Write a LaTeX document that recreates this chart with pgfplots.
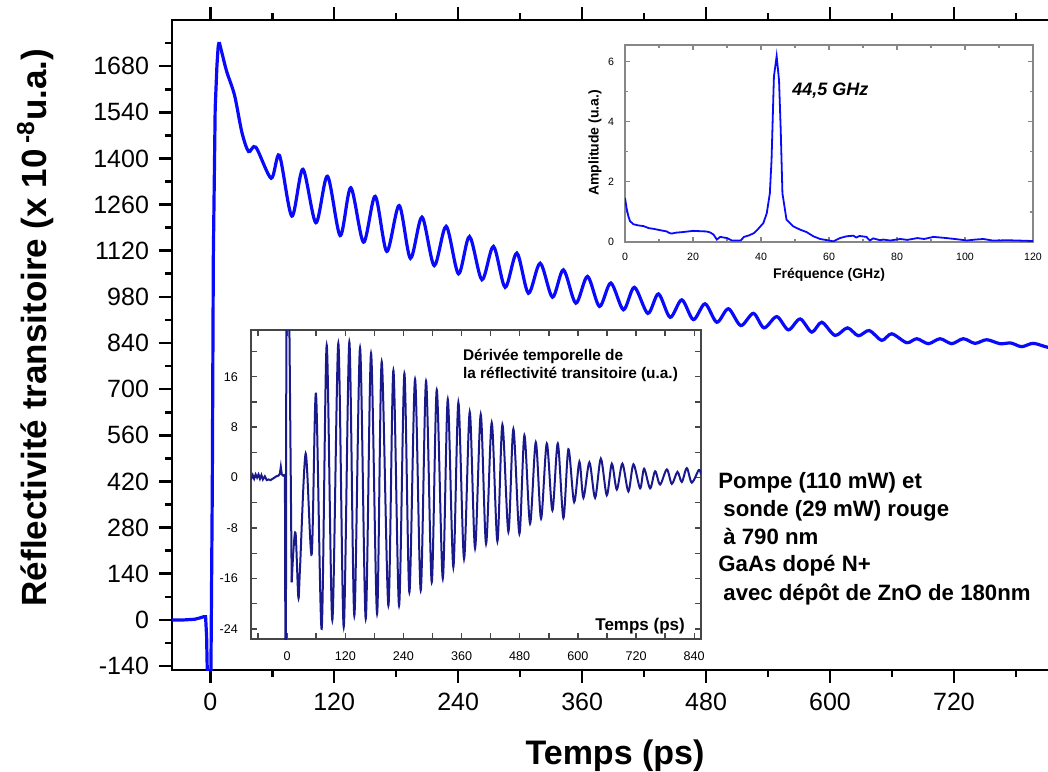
\documentclass[border=0pt]{standalone}
\usepackage{fontspec}
\setmainfont{Liberation Sans}
\usepackage{pgfplots}
\pgfplotsset{compat=1.18}
\definecolor{mainblue}{RGB}{10,10,250}
\definecolor{navy}{RGB}{25,25,140}
\definecolor{framegray}{RGB}{135,135,135}
\definecolor{framedark}{RGB}{70,70,70}

\begin{document}
\begin{tikzpicture}
% ---------------- main axis ----------------
\begin{axis}[
  at={(86pt,50.5pt)}, anchor=south west,
  scale only axis, width=442.65pt, height=325pt,
  xmin=-37, xmax=820, ymin=-152, ymax=1820,
  axis line style={line width=1.3pt},
  every tick/.style={line width=1.3pt, black},
  major tick length=6.5pt, minor tick length=3.5pt,
  tick align=outside,
  xtick={0,120,...,720}, minor xtick={60,180,...,780},
  ytick={-140,0,...,1680}, minor ytick={-70,70,...,1750},
  ytick pos=left, xtick pos=both, xticklabel pos=lower,
  ticklabel style={font=\fontsize{12.5}{13}\selectfont},
  /pgf/number format/assume math mode=true,
  /pgf/number format/1000 sep={},
  x tick label style={yshift=-1.5pt},
  y tick label style={xshift=-1.5pt},
]
\addplot[mainblue, line width=1.6pt] coordinates {
(-37,0) (-25,0) (-15,2) (-10,6) (-6,10) (-4.5,10) (-3.5,-50) (-2,-300) (0,-300)
(0.7,-150) (2,400) (3,1100) (4.8,1552) (6.5,1682) (7.7,1740) (8.7,1753)
};
\addplot[mainblue, line width=1.6pt, smooth] coordinates {
(8.7,1753) (12,1712) (16.1,1662) (23.6,1591) (30.6,1480) (37.1,1421) (44.2,1434)
(59,1340) (67,1409) (79,1225) (89.7,1367) (102.3,1205) (113.5,1346) (125.8,1166)
(136.1,1311) (148.4,1146) (159.7,1285) (170.9,1118) (182.9,1257) (193.8,1097)
(205,1222) (216.8,1075) (228.4,1194) (240.3,1050) (251,1163) (263,1032)
(274.2,1133) (285.5,1009) (296.8,1113) (308,991) (319.4,1082) (331.3,979)
(341.9,1062) (353.9,961) (365.2,1042) (376.8,951) (387.8,1022) (400,941)
(410.6,1009) (423.6,930) (433.9,989) (445.2,918) (456.5,971) (467.7,911)
(479,959) (490.4,903) (501.6,944) (513.6,893) (525.8,930) (536.1,886)
(548.4,920) (559.7,880) (571,913) (582.3,873) (592,903) (604.8,863)
(616.8,886) (627.4,862) (638,878) (650,848) (659.7,868) (674.2,841)
(684,853) (695.2,838) (706.5,853) (717.8,838) (729,853) (740.3,839)
(751.6,850) (764.5,838) (775,840) (785.5,829) (796.8,839) (811,827) (820,830)
};
\end{axis}

% ---------------- FFT inset ----------------
\begin{axis}[
  at={(312.5pt,264.5pt)}, anchor=south west,
  scale only axis, width=204pt, height=98.5pt,
  xmin=0, xmax=120, ymin=0, ymax=6.55,
  axis background/.style={fill=white},
  axis line style={framegray, line width=0.6pt},
  every tick/.style={framegray, line width=0.6pt},
  major tick length=2.5pt, minor tick length=1.5pt,
  tick align=inside,
  xtick={0,20,...,120}, minor xtick={10,30,...,110},
  ytick={0,2,4,6}, minor ytick={1,3,5},
  xtick pos=both, ytick pos=both, xticklabel pos=lower, yticklabel pos=left,
  ticklabel style={font=\fontsize{5.3}{6}\selectfont},
  /pgf/number format/assume math mode=true,
  x tick label style={yshift=-2pt},
  y tick label style={xshift=-2pt},
]
\addplot[mainblue, line width=0.9pt] coordinates {
(0,1.46) (0.5,1.1) (1,0.85) (1.5,0.69) (2.5,0.59) (4,0.55) (5.4,0.53) (7,0.46)
(8.3,0.44) (10,0.4) (12.3,0.35) (13,0.3) (13.7,0.28) (15,0.31) (17,0.33)
(18.5,0.35) (20,0.37) (22,0.36) (24,0.35) (25,0.32) (26,0.25) (27,0.08)
(28,0.17) (30,0.13) (31.4,0.05) (33,0.05) (34,0.05) (35,0.17) (36.5,0.22)
(38,0.3) (39.2,0.44) (40.7,0.63) (41.7,0.96) (42.6,1.62) (43.1,2.73) (43.8,5.5)
(44.6,6.18) (45.3,5.38) (45.8,3.72) (46.3,1.62) (47.5,0.74) (49.5,0.52)
(51.5,0.41) (53.4,0.33) (55.4,0.19) (57.4,0.1) (60,0.05) (61.3,0.02) (63.2,0.13)
(65.2,0.19) (67.2,0.21) (68,0.15) (69,0.2) (71,0.17) (72,0.05) (73,0.12)
(75,0.06) (76,0.08) (78,0.05) (81,0.1) (83,0.07) (86,0.13) (88,0.1) (90.7,0.17)
(94.6,0.13) (98.5,0.08) (100.5,0.05) (103,0.08) (105.4,0.1) (108,0.05)
(110,0.05) (112,0.06) (115,0.05) (118,0.04) (120,0.03)
};
\end{axis}

% ---------------- derivative inset ----------------
\begin{axis}[
  at={(125.5pt,66pt)}, anchor=south west,
  scale only axis, width=225pt, height=154.5pt,
  xmin=-74.5, xmax=854, ymin=-25.6, ymax=23.4,
  axis background/.style={fill=white},
  axis line style={framedark, line width=0.8pt},
  every tick/.style={framedark, line width=0.7pt},
  major tick length=2.8pt, minor tick length=2.8pt,
  tick align=inside,
  xtick={0,120,...,840}, minor xtick={-60,60,...,780},
  ytick={-24,-16,...,16}, minor ytick={-20,-12,...,20},
  xtick pos=both, ytick pos=both, xticklabel pos=lower, yticklabel pos=left,
  ticklabel style={font=\fontsize{6.3}{7}\selectfont},
  /pgf/number format/assume math mode=true,
  x tick label style={yshift=-3pt},
  y tick label style={xshift=-3pt},
]
\addplot[navy, line width=1pt] coordinates {
(-74.5,-0.3) (-71,0.4) (-68,-0.2) (-65,0.5) (-62,0) (-59,0.5) (-56,-0.2) (-53,0.4)
(-50,-0.3) (-46,0.2) (-42,-0.4) (-38,-0.3) (-34,-0.4) (-30,-0.2) (-26,0) (-22,0.2)
(-18,0.3) (-15,0.6) (-13,1.7) (-11,0.5) (-8,0.3) (-6,0.4) (-4.5,0.3)
(-3.5,-30) (-2.5,-30) (-1.5,30) (4,30) (9.5,-16.6)
};
\addplot[navy, line width=1pt, smooth] coordinates {
(9.5,-16.6) (13.5,-11) (17.7,-9) (23.2,-19) (26.6,-14.4) (38.3,3.8) (50.7,-12.2)
(59.6,13.3) (71.3,-24) (81.7,21) (93.3,-22.6) (105.7,21.3) (116.8,-23.7)
(128.4,21.5) (138.7,-21.9) (150.5,20.6) (162.2,-22.4) (173.2,19.7) (185.6,-21.6)
(195.2,18.4) (209,-20.3) (219.3,17) (231,-20.3) (242,16.5) (252.3,-18.2)
(264,15.6) (275.7,-17.9) (286.7,15.3) (298.4,-16.6) (308.8,13.9) (321.2,-16)
(331.5,12.4) (343,-14.2) (353.4,11.9) (365.1,-12.9) (376.8,10.4) (387.8,-11.2)
(399.5,10) (410.5,-10.5) (422.2,8.7) (433.9,-10.1) (444.2,8.4) (456.6,-8.6)
(466.9,7.7) (479.3,-8.9) (489.6,6.7) (501.3,-7.3) (513.1,5.6) (524,-6.5)
(535.8,5.4) (547.4,-5.2) (558.5,5.4) (570.1,-6.4) (580.4,4.5) (592.2,-3.9)
(603.1,2.5) (611.4,-3.2) (623.7,2.4) (635.5,-3.2) (647.3,3.0) (659.6,-2.8)
(670,2.2) (680.3,-1.9) (691.8,2.2) (704.2,-2.2) (714.6,2.1) (728.4,-1.7)
(736.6,1.4) (749,-1.7) (759.3,1.0) (769.6,-1.1) (783.5,1.3) (793.8,-1.0)
(805.4,0.9) (814.4,-0.7) (824.7,1.5) (835,-0.8) (849.4,1.2) (854,0.5)
};
\end{axis}

% ---------------- texts ----------------
\node[rotate=90, anchor=base, inner sep=0, font=\bfseries\fontsize{17.5}{20}\selectfont]
  at (23.35pt,221.75pt) {Réflectivité transitoire (x 10\,\textsuperscript{-8}u.a.)};
\node[anchor=base, inner sep=0, font=\bfseries\fontsize{17}{20}\selectfont]
  at (307.5pt,3.5pt) {Temps (ps)};

\begin{scope}[every node/.style={anchor=base west, inner sep=0, font=\bfseries\fontsize{11.1}{13}\selectfont}]
\node at (359pt,141.35pt) {Pompe (110 mW) et};
\node at (361.5pt,127.5pt) {sonde (29 mW) rouge};
\node at (361.5pt,113.35pt) {à 790 nm};
\node at (359pt,99.65pt) {GaAs dopé N+};
\node at (361.5pt,85.5pt) {avec dépôt de ZnO de 180nm};
\end{scope}

\node[anchor=base west, inner sep=0, font=\bfseries\itshape\fontsize{9}{10}\selectfont]
  at (396pt,337.5pt) {44,5 GHz};
\node[anchor=base, inner sep=0, font=\bfseries\fontsize{7}{8}\selectfont]
  at (414.5pt,246.35pt) {Fréquence (GHz)};
\node[rotate=90, anchor=center, inner sep=0, font=\bfseries\fontsize{7}{8}\selectfont]
  at (297.5pt,314pt) {Amplitude (u.a.)};

\node[anchor=base west, inner sep=0, font=\bfseries\fontsize{7.7}{9}\selectfont]
  at (231.35pt,205.15pt) {Dérivée temporelle de};
\node[anchor=base west, inner sep=0, font=\bfseries\fontsize{7.7}{9}\selectfont]
  at (231.35pt,196.35pt) {la réflectivité transitoire (u.a.)};
\node[anchor=base west, inner sep=0, font=\bfseries\fontsize{8.5}{10}\selectfont]
  at (297.5pt,70.15pt) {Temps (ps)};

\pgfresetboundingbox
\path[use as bounding box] (0,0) rectangle (524pt,385.5pt);
\end{tikzpicture}
\end{document}
